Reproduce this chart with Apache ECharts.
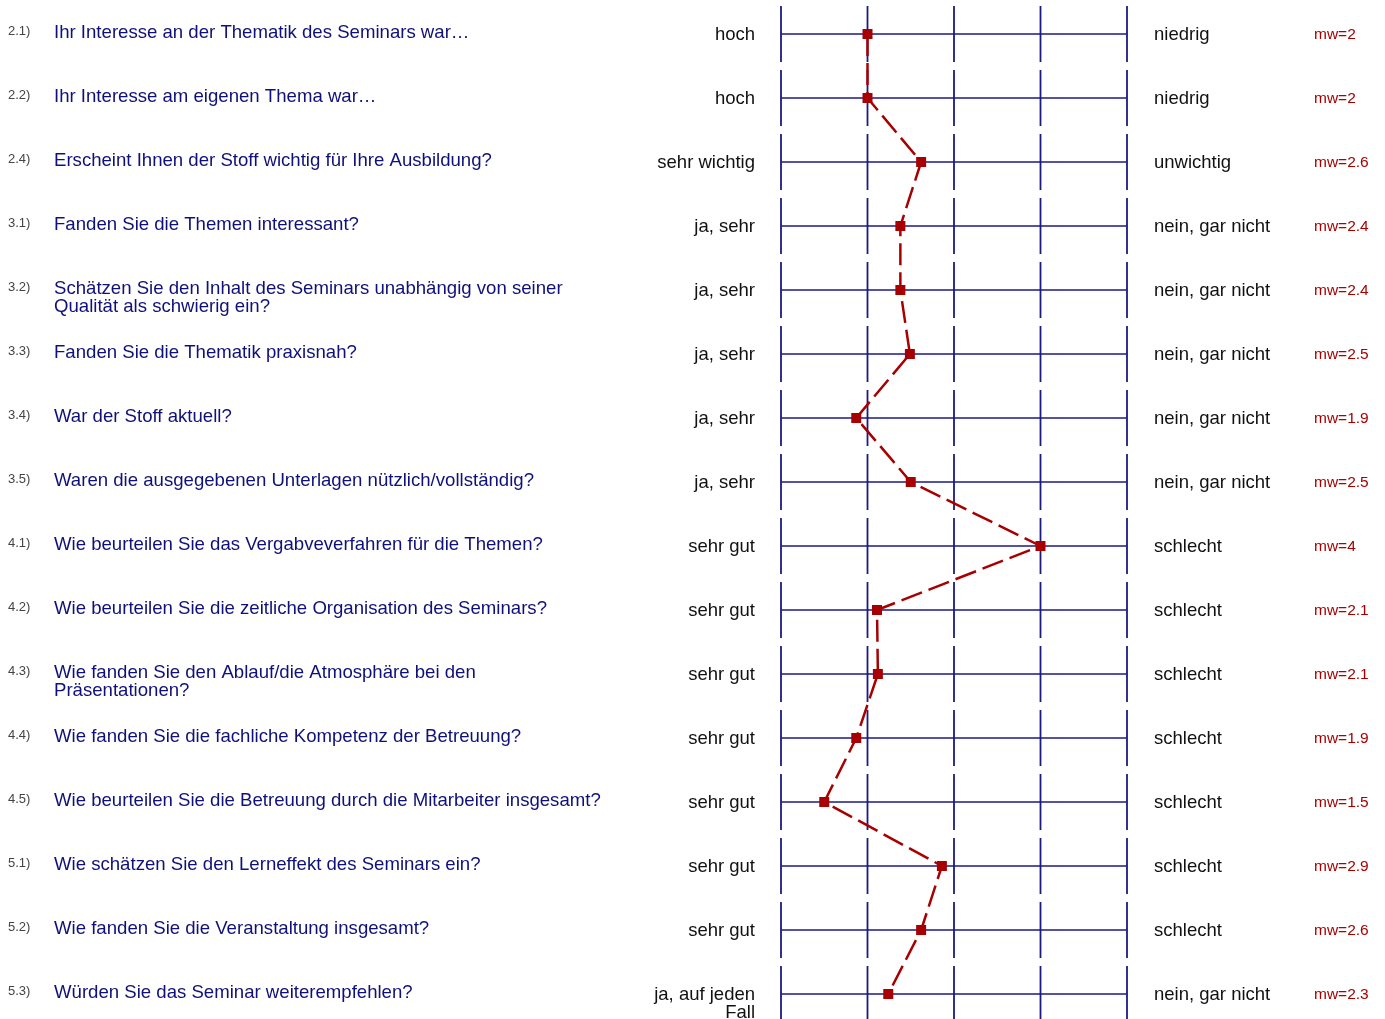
<!DOCTYPE html>
<html>
<head>
<meta charset="utf-8">
<title>Profillinie</title>
<script src="https://cdn.jsdelivr.net/npm/echarts@6/dist/echarts.min.js"></script>
<style>
  html, body { margin: 0; padding: 0; background: #fff; }
  #chart { width: 1385px; height: 1019px; }
</style>
</head>
<body>
<div id="chart"></div>
<script>
var numbers = ['2.1)', '2.2)', '2.4)', '3.1)', '3.2)', '3.3)', '3.4)', '3.5)',
  '4.1)', '4.2)', '4.3)', '4.4)', '4.5)', '5.1)', '5.2)', '5.3)']

var questions = [
  'Ihr Interesse an der Thematik des Seminars war…',
  'Ihr Interesse am eigenen Thema war…',
  'Erscheint Ihnen der Stoff wichtig für Ihre Ausbildung?',
  'Fanden Sie die Themen interessant?',
  'Schätzen Sie den Inhalt des Seminars unabhängig von seiner\nQualität als schwierig ein?',
  'Fanden Sie die Thematik praxisnah?',
  'War der Stoff aktuell?',
  'Waren die ausgegebenen Unterlagen nützlich/vollständig?',
  'Wie beurteilen Sie das Vergabveverfahren für die Themen?',
  'Wie beurteilen Sie die zeitliche Organisation des Seminars?',
  'Wie fanden Sie den Ablauf/die Atmosphäre bei den\nPräsentationen?',
  'Wie fanden Sie die fachliche Kompetenz der Betreuung?',
  'Wie beurteilen Sie die Betreuung durch die Mitarbeiter insgesamt?',
  'Wie schätzen Sie den Lerneffekt des Seminars ein?',
  'Wie fanden Sie die Veranstaltung insgesamt?',
  'Würden Sie das Seminar weiterempfehlen?'
]

var leftLabels = ['hoch', 'hoch', 'sehr wichtig', 'ja, sehr', 'ja, sehr', 'ja, sehr', 'ja, sehr', 'ja, sehr',
  'sehr gut', 'sehr gut', 'sehr gut', 'sehr gut', 'sehr gut', 'sehr gut', 'sehr gut', 'ja, auf jeden\nFall']

var rightLabels = ['niedrig', 'niedrig', 'unwichtig', 'nein, gar nicht', 'nein, gar nicht', 'nein, gar nicht',
  'nein, gar nicht', 'nein, gar nicht', 'schlecht', 'schlecht', 'schlecht', 'schlecht', 'schlecht',
  'schlecht', 'schlecht', 'nein, gar nicht']

var mwLabels = ['mw=2', 'mw=2', 'mw=2.6', 'mw=2.4', 'mw=2.4', 'mw=2.5', 'mw=1.9', 'mw=2.5',
  'mw=4', 'mw=2.1', 'mw=2.1', 'mw=1.9', 'mw=1.5', 'mw=2.9', 'mw=2.6', 'mw=2.3']

var means = [2.0, 2.0, 2.62, 2.38, 2.38, 2.49, 1.87, 2.5, 4.0, 2.11, 2.12, 1.87, 1.5, 2.86, 2.62, 2.24]

var scaleTicks = [1, 2, 3, 4, 5]

var FONT = '"Liberation Sans", Arial, sans-serif'
var GRID_COLOR = '#1a1a82'
var RED = '#a80000'

var chart = echarts.init(document.getElementById('chart'))

function renderRow(params, api) {
  var i = api.value(0)
  var left = api.coord([scaleTicks[0], i])
  var right = api.coord([scaleTicks[scaleTicks.length - 1], i])
  var cy = left[1]
  var children = []

  children.push({
    type: 'line',
    shape: { x1: left[0], y1: cy, x2: right[0], y2: cy },
    style: { stroke: GRID_COLOR, lineWidth: 1.4 }
  })
  scaleTicks.forEach(function (t) {
    var x = api.coord([t, i])[0]
    children.push({
      type: 'line',
      shape: { x1: x, y1: cy - 28, x2: x, y2: cy + 28 },
      style: { stroke: GRID_COLOR, lineWidth: 1.8 }
    })
  })

  children.push({
    type: 'text',
    style: {
      text: numbers[i], x: 8, y: cy - 3, align: 'left', verticalAlign: 'middle',
      font: '13px ' + FONT, fill: '#444'
    }
  })
  children.push({
    type: 'text',
    style: {
      text: questions[i], x: 54, y: cy - 10, align: 'left', verticalAlign: 'top',
      font: '18.6px ' + FONT, fill: '#10107a', lineHeight: 18
    }
  })
  children.push({
    type: 'text',
    style: {
      text: leftLabels[i], x: 755, y: cy - 8, align: 'right', verticalAlign: 'top',
      font: '18.5px ' + FONT, fill: '#111', lineHeight: 18
    }
  })
  children.push({
    type: 'text',
    style: {
      text: rightLabels[i], x: 1154, y: cy + 1, align: 'left', verticalAlign: 'middle',
      font: '18.5px ' + FONT, fill: '#111'
    }
  })
  children.push({
    type: 'text',
    style: {
      text: mwLabels[i], x: 1314, y: cy + 1, align: 'left', verticalAlign: 'middle',
      font: '15.5px ' + FONT, fill: RED
    }
  })

  return { type: 'group', children: children }
}

var option = {
  backgroundColor: '#fff',
  animation: false,
  grid: { left: 781, right: 258, top: 34, bottom: 25 },
  xAxis: { type: 'value', min: 1, max: 5, show: false },
  yAxis: { type: 'value', min: 0, max: means.length - 1, inverse: true, show: false },
  series: [{
    type: 'custom',
    renderItem: renderRow,
    silent: true,
    clip: false,
    data: means.map(function (v, i) { return [i] }),
    encode: { y: 0 },
    z: 1
  }, {
    type: 'line',
    data: means.map(function (v, i) { return [v, i] }),
    symbol: 'rect',
    symbolSize: 10,
    showSymbol: true,
    lineStyle: { color: RED, width: 2.5, type: [22, 7] },
    itemStyle: { color: RED },
    z: 3
  }]
}

chart.setOption(option)
</script>
</body>
</html>
